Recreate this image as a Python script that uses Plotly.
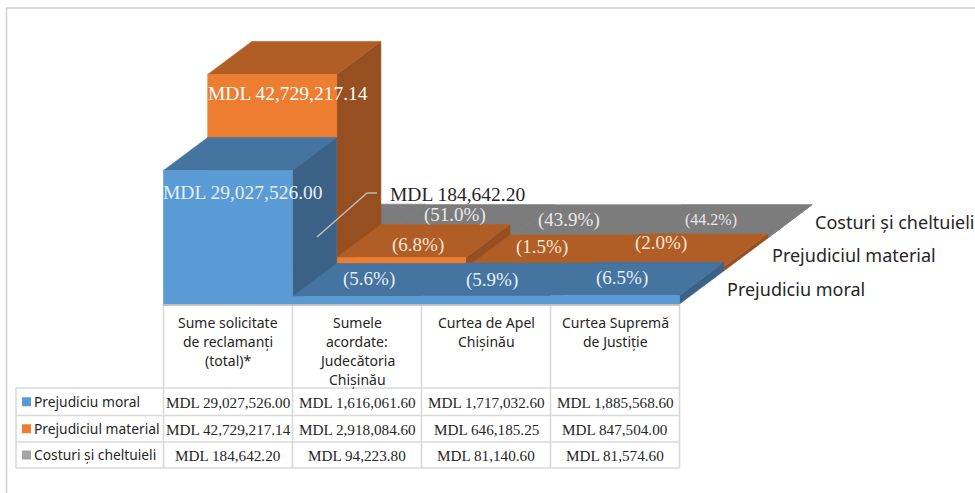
import plotly.graph_objects as go

W, H = 975, 493

# ---- data ----
categories = ["Sume solicitate<br>de reclamanți<br>(total)*",
              "Sumele<br>acordate:<br>Judecătoria<br>Chișinău",
              "Curtea de Apel<br>Chișinău",
              "Curtea Supremă<br>de Justiție"]
series_names = ["Prejudiciu moral", "Prejudiciul material", "Costuri și cheltuieli"]
moral = [29027526.00, 1616061.60, 1717032.60, 1885568.60]
material = [42729217.14, 2918084.60, 646185.25, 847504.00]
costs = [184642.20, 94223.80, 81140.60, 81574.60]
pct_moral = ["(5.6%)", "(5.9%)", "(6.5%)"]
pct_material = ["(6.8%)", "(1.5%)", "(2.0%)"]
pct_costs = ["(51.0%)", "(43.9%)", "(44.2%)"]

front = ["#5B9BD5", "#ED7D31", "#A5A5A5"]
top = ["#44749F", "#B15E26", "#7C7C7C"]
side = ["#3B6286", "#964F20", "#6B6B6B"]

# ---- axis scale: x in category units, y in MDL ----
X0, CW = 163.5, 129.0          # pixel of category 0 left edge, category width
Y0, PPM = 304.0, 4.6 / 1e6     # pixel of value 0, pixels per MDL
DX, DY = 44.2 / CW, 33.0 / PPM # oblique depth step in axis units

SERIF = "Liberation Serif"
SANS = "Noto Sans"


def px(x):
    return x / W


def py(y):
    return 1 - y / H


fig = go.Figure()


def poly(xs, ys, color):
    fig.add_trace(go.Scatter(x=xs + xs[:1], y=ys + ys[:1], mode="lines", fill="toself",
                             fillcolor=color, line=dict(color=color, width=0.6),
                             hoverinfo="skip", showlegend=False))


all_vals = [moral, material, costs]
for s in (2, 1, 0):
    vals = all_vals[s]
    for c, v in enumerate(vals):
        x0, x1 = c + s * DX, c + 1 + s * DX
        b, t = s * DY, s * DY + v
        poly([x1, x1 + DX, x1 + DX, x1], [b, b + DY, t + DY, t], side[s])
        poly([x0, x1, x1 + DX, x0 + DX], [t, t, t + DY, t + DY], top[s])
        poly([x0, x1, x1, x0], [b, b, t, t], front[s])

fig.update_xaxes(range=[(0 - X0) / CW, (W - X0) / CW], visible=False, fixedrange=True)
fig.update_yaxes(range=[(Y0 - H) / PPM, Y0 / PPM], visible=False, fixedrange=True)

shapes = []
ann = []


def line(x0, y0, x1, y1, color="#D9D9D9", width=1.6):
    shapes.append(dict(type="line", xref="paper", yref="paper", x0=px(x0), x1=px(x1), y0=py(y0), y1=py(y1),
                       line=dict(color=color, width=width)))


def text(x, y, s, size, color="#262626", family=SANS, anchor="center"):
    ann.append(dict(xref="paper", yref="paper", x=px(x), y=py(y), text=s, showarrow=False, xanchor=anchor,
                    yanchor="middle", align="center", font=dict(size=size, color=color, family=family),
                    borderpad=0, borderwidth=0))


# frame
line(6.5, 8, 975, 8, "#CFCFCF", 1.5)
line(6.5, 8, 6.5, 493, "#CFCFCF", 1.5)

# table grid
cols = [X0 + i * CW for i in range(5)]
rows = [388, 415.5, 442, 468]
for cx in cols:
    line(cx, 305, cx, 468)
line(16, 388, 16, 468)
for ry in rows:
    line(16, ry, cols[-1], ry)
line(cols[0] - 1, 305, cols[-1], 305, "#B5B5B5", 1.6)

# table text
for i, cat in enumerate(categories):
    parts = cat.split("<br>")
    for j, p in enumerate(parts):
        text(cols[i] + CW / 2, 322 + j * 19, p, 14)
for r, name in enumerate(series_names):
    ry = (rows[r] + rows[r + 1]) / 2
    shapes.append(dict(type="rect", xref="paper", yref="paper", x0=px(22), x1=px(31), y0=py(ry + 4.5), y1=py(ry - 4.5),
                       fillcolor=front[r], line=dict(width=0)))
    text(34, ry - 0.5, name, 13.8, anchor="left")
    for c, v in enumerate(all_vals[r]):
        text(cols[c] + CW / 2, ry + 0.5, f"MDL {v:,.2f}", 15.2, family=SERIF)

# value labels
text(288, 94, f"MDL {material[0]:,.2f}", 19.5, "#FFFFFF", SERIF)
text(243, 192, f"MDL {moral[0]:,.2f}", 19.5, "#E4EEF8", SERIF)
text(457, 194, f"MDL {costs[0]:,.2f}", 19.5, "#262626", SERIF)
line(317, 237, 367, 193, "#BFBFBF", 1.4)
line(367, 193, 377, 193, "#BFBFBF", 1.4)

for (xc, yc, s) in zip([369, 492, 622], [279, 280, 278], pct_moral):
    text(xc, yc, s, 19, "#E4EEF8", SERIF)
for (xc, yc, s) in zip([418, 542, 661], [245, 247, 243], pct_material):
    text(xc, yc, s, 19, "#F5E6DA", SERIF)
for (xc, yc, s) in zip([455, 569, 711], [215, 220, 220], pct_costs):
    text(xc, yc, s, 19 if s != pct_costs[2] else 16, "#E8E8E8", SERIF)

# depth axis labels
text(815, 222, series_names[2], 18, anchor="left")
text(772, 255, series_names[1], 18, anchor="left")
text(727, 289, series_names[0], 18, anchor="left")

fig.update_layout(width=W, height=H, margin=dict(l=0, r=0, t=0, b=0), paper_bgcolor="white", plot_bgcolor="white",
                  shapes=shapes, annotations=ann, showlegend=False)
fig.write_html("out.html", config=dict(displayModeBar=False),
               post_script="document.body.style.margin='0';document.body.style.overflow='hidden';")
